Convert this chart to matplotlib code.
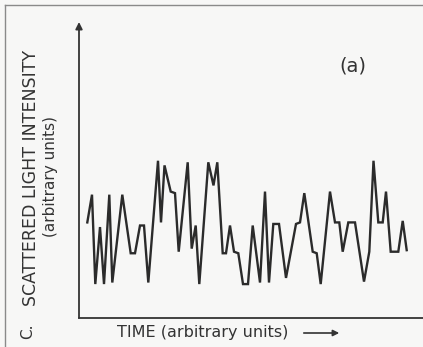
import matplotlib as mpl
import matplotlib.pyplot as plt
from matplotlib.lines import Line2D

mpl.rcParams['font.family'] = 'DejaVu Sans'

# time (arbitrary units) and intensity level
time = [8.3, 13, 16.3, 21, 25, 30.3, 33.3, 43.3, 51.7, 56, 61, 65, 69.3,
        79, 82, 85.5, 91.7, 96, 99.7, 108.7, 112.7, 116.7, 120.3,
        129.3, 134.5, 138.3, 143.7, 147, 151, 155, 159.3, 164, 169,
        173.7, 181, 186, 190, 194.3, 200, 207, 217, 221, 225.3, 233.7,
        237.7, 241.7, 251, 256, 260.3, 263.7, 269.3, 276, 285, 290.3,
        294.5, 299.3, 303.7, 307, 311.7, 319.3, 323.7, 327.7]
intensity = [2.0, 2.9, 0.0, 1.85, 0.0, 2.9, 0.05, 2.9, 1.0, 1.0, 1.9, 1.9, 0.05,
             4.0, 2.0, 3.85, 3.0, 2.95, 1.05, 3.95, 1.15, 1.9, 0.0,
             3.95, 3.2, 3.95, 1.0, 1.0, 1.9, 1.05, 1.0, 0.0, 0.0,
             1.9, 0.05, 3.0, 0.05, 1.95, 1.95, 0.2, 1.95, 2.0, 2.95, 1.05,
             1.0, 0.0, 3.0, 2.0, 2.0, 1.05, 2.0, 2.0, 0.08, 1.05,
             4.0, 2.0, 2.0, 3.0, 1.05, 1.05, 2.05, 1.1]

W, H = 423, 347
fig = plt.figure(figsize=(W / 100, H / 100), dpi=100)
fig.patch.set_facecolor('#f7f7f6')

ax = fig.add_axes([79 / W, (H - 318) / H, (440 - 79) / W, (318 - 22) / H])
ax.set_facecolor('none')
ax.plot(time, intensity, color='#2b2b2b', lw=1.7, solid_joinstyle='miter')
ax.set_xlim(0, 361)
ax.set_ylim(-1.1, 8.5)
ax.set_xticks([])
ax.set_yticks([])
for s in ['top', 'right', 'left']:
    ax.spines[s].set_visible(False)
ax.spines['bottom'].set_color('#333333')
ax.spines['bottom'].set_linewidth(1.3)

# y axis with arrow head
ax.annotate('', xy=(0, 1.0), xytext=(0, 0), xycoords='axes fraction',
            arrowprops=dict(arrowstyle='-|>', lw=1.3, color='#333333',
                            mutation_scale=10, shrinkA=0, shrinkB=0))

# page border from the scan
fig.add_artist(Line2D([5 / W, 1], [1 - 5 / H, 1 - 5 / H], color='#8a8a8a', lw=1))
fig.add_artist(Line2D([5 / W, 5 / W], [0, 1 - 5 / H], color='#8a8a8a', lw=1))

fig.text(31 / W, 1 - 178 / H, 'SCATTERED LIGHT INTENSITY', rotation=90,
         ha='center', va='center', fontsize=12.5, color='#333333')
fig.text(51 / W, 1 - 177 / H, '(arbitrary units)', rotation=90,
         ha='center', va='center', fontsize=11, color='#333333')
fig.text(28 / W, 1 - 331 / H, 'C.', rotation=90,
         ha='center', va='center', fontsize=11, color='#333333')
fig.text(353 / W, 1 - 66 / H, '(a)', ha='center', va='center',
         fontsize=14, color='#333333')
fig.text(117 / W, 1 - 333 / H, 'TIME (arbitrary units)', ha='left', va='center',
         fontsize=11.5, color='#333333')
fig.add_artist(mpl.patches.FancyArrowPatch((301 / W, 1 - 333 / H), (342 / W, 1 - 333 / H),
                                           transform=fig.transFigure, arrowstyle='-|>',
                                           mutation_scale=9, lw=1.2, color='#333333'))

fig.savefig('out.png', dpi=100, facecolor=fig.get_facecolor())
